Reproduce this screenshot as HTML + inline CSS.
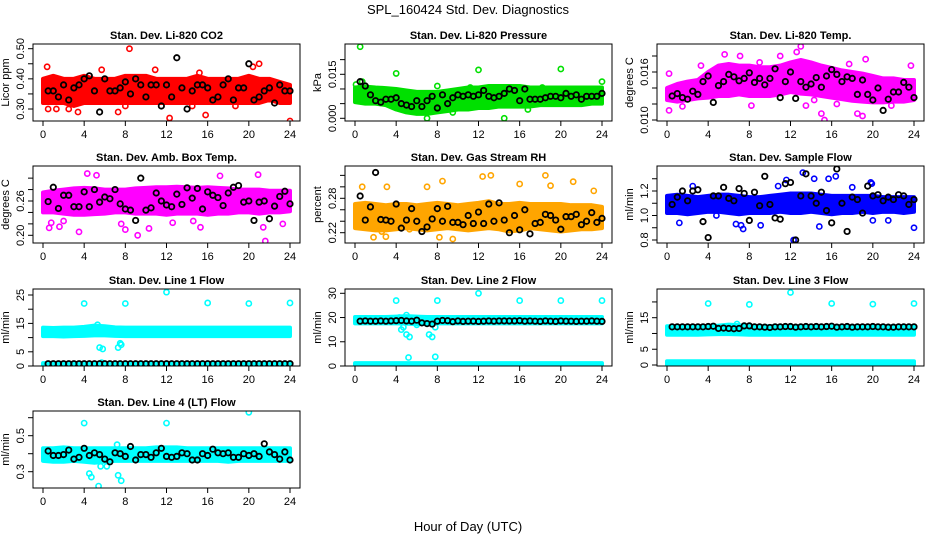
<!DOCTYPE html>
<html><head><meta charset="utf-8">
<style>
body{margin:0;background:#fff;}
svg{display:block;font-family:"Liberation Sans",sans-serif;}
</style></head>
<body>
<svg id="c" width="936" height="540" viewBox="0 0 936 540">
<text x="468" y="14" text-anchor="middle" font-size="13">SPL_160424  Std. Dev. Diagnostics</text>
<text x="468" y="531" text-anchor="middle" font-size="13">Hour of Day (UTC)</text>
</svg>
<script>
const hours = [0,1,2,3,4,5,6,7,8,9,10,11,12,13,14,15,16,17,18,19,20,21,22,23,24];
const xTicks = [0,4,8,12,16,20,24];

const co2BandLo = [0.32,0.32,0.32,0.31,0.32,0.32,0.32,0.32,0.32,0.32,0.32,0.32,0.32,0.32,0.32,0.32,0.32,0.32,0.32,0.32,0.32,0.32,0.33,0.32,0.32];
const co2BandHi = [0.40,0.41,0.40,0.40,0.41,0.40,0.40,0.40,0.41,0.41,0.41,0.40,0.40,0.40,0.40,0.41,0.40,0.40,0.40,0.40,0.41,0.40,0.40,0.39,0.38];
const co2OutX = [0.4,0.5,1.3,2.5,3.4,8.4,12.3,15.8,24,7.3,5.7,10.9,15.2,20.4,21,8,14.5,18.7];
const co2OutY = [0.44,0.30,0.30,0.30,0.29,0.50,0.27,0.28,0.26,0.29,0.43,0.43,0.42,0.44,0.45,0.31,0.31,0.31];
const co2Black = [0.36,0.36,0.34,0.38,0.33,0.37,0.38,0.40,0.41,0.36,0.29,0.40,0.36,0.36,0.37,0.39,0.35,0.40,0.38,0.34,0.38,0.38,0.31,0.38,0.34,0.47,0.37,0.30,0.36,0.38,0.38,0.37,0.33,0.34,0.38,0.40,0.33,0.37,0.37,0.45,0.33,0.34,0.36,0.37,0.32,0.38,0.36,0.36];

const presBandLo = [0.0055,0.005,0.005,0.0045,0.003,0.002,0.0015,0.0015,0.002,0.0025,0.003,0.003,0.0035,0.0035,0.004,0.004,0.004,0.004,0.0045,0.0045,0.0045,0.0045,0.0045,0.005,0.005];
const presBandHi = [0.0105,0.0108,0.0105,0.0103,0.010,0.0095,0.009,0.009,0.009,0.0095,0.010,0.0105,0.0105,0.011,0.011,0.011,0.011,0.0105,0.0105,0.0105,0.0105,0.0105,0.0105,0.0105,0.0105];
const presOutX = [0.5,0.1,0.7,4,12,20,24,8,7,14.5,11.2,18.2,9.5,16.8];
const presOutY = [0.0244,0.0115,0.0125,0.0153,0.0165,0.0168,0.0125,0.011,0.0,0.0,0.0105,0.0105,0.002,0.003];
const presBlack = [0.0125,0.011,0.008,0.006,0.0055,0.0065,0.0065,0.007,0.005,0.0045,0.004,0.006,0.004,0.006,0.0075,0.0035,0.008,0.005,0.007,0.008,0.0075,0.008,0.0075,0.008,0.0095,0.0075,0.007,0.0075,0.0085,0.010,0.0095,0.006,0.010,0.0065,0.0065,0.0065,0.007,0.0075,0.0075,0.007,0.0085,0.0075,0.008,0.0065,0.0075,0.0075,0.0075,0.0085];

const ltBandLo = [0.0125,0.0123,0.0125,0.0127,0.0128,0.013,0.013,0.0132,0.013,0.013,0.013,0.0132,0.0135,0.0133,0.0132,0.013,0.0128,0.0126,0.0124,0.0123,0.0122,0.0122,0.0123,0.0123,0.0125];
const ltBandHi = [0.014,0.0145,0.0148,0.015,0.016,0.0168,0.017,0.0168,0.0168,0.0166,0.0166,0.0168,0.0172,0.0175,0.0172,0.0168,0.0165,0.0162,0.016,0.0158,0.0155,0.0152,0.0152,0.015,0.015];
const ltOutX = [0.2,0.2,5.6,7.1,9,12.6,13,15.3,15,18.5,19,17.7,19.3,23.7,1.5,8.2,13.5,11,3.3,21.8,16.5,14.3];
const ltOutY = [0.0112,0.0158,0.0182,0.018,0.0172,0.0185,0.0192,0.010,0.0108,0.0108,0.0105,0.017,0.0176,0.0168,0.0117,0.0118,0.0118,0.018,0.0168,0.0118,0.012,0.0125];
const ltBlack = [0.013,0.0133,0.0128,0.0126,0.0136,0.0132,0.0148,0.0155,0.0122,0.0143,0.0148,0.0157,0.0154,0.0149,0.0152,0.0159,0.0147,0.0152,0.0144,0.0152,0.0164,0.0128,0.0148,0.016,0.0127,0.0148,0.0141,0.0145,0.0153,0.0141,0.0155,0.0163,0.0157,0.0148,0.0154,0.0152,0.0132,0.015,0.0132,0.0125,0.014,0.0112,0.0126,0.0135,0.0135,0.0147,0.0141,0.0128];

const boxBandLo = [0.24,0.24,0.238,0.236,0.236,0.237,0.238,0.24,0.24,0.238,0.238,0.238,0.236,0.238,0.238,0.238,0.236,0.238,0.238,0.24,0.24,0.238,0.24,0.24,0.242];
const boxBandHi = [0.275,0.278,0.28,0.282,0.283,0.282,0.28,0.28,0.28,0.282,0.283,0.284,0.284,0.285,0.284,0.283,0.284,0.283,0.282,0.28,0.28,0.28,0.278,0.278,0.278];
const boxOutX = [0.6,0.8,1.6,2,3.5,4.3,5.2,9.2,8,10.3,15.3,17.2,20.9,21.4,21.6,23.3,7.6,12.6,14.6];
const boxOutY = [0.213,0.222,0.215,0.225,0.206,0.308,0.305,0.20,0.21,0.212,0.214,0.304,0.306,0.214,0.19,0.22,0.22,0.222,0.225];
const boxBlack = [0.259,0.284,0.247,0.27,0.27,0.25,0.25,0.276,0.25,0.28,0.258,0.267,0.264,0.28,0.255,0.246,0.244,0.226,0.30,0.244,0.248,0.274,0.26,0.253,0.25,0.272,0.254,0.283,0.265,0.282,0.246,0.276,0.27,0.266,0.252,0.274,0.284,0.287,0.258,0.26,0.226,0.258,0.26,0.229,0.251,0.268,0.277,0.255];

const rhBandLo = [0.228,0.226,0.224,0.224,0.226,0.228,0.226,0.224,0.226,0.228,0.226,0.224,0.226,0.228,0.226,0.222,0.224,0.228,0.226,0.224,0.222,0.224,0.226,0.226,0.228];
const rhBandHi = [0.27,0.272,0.27,0.268,0.27,0.27,0.268,0.27,0.272,0.27,0.268,0.27,0.272,0.275,0.27,0.27,0.272,0.27,0.27,0.27,0.27,0.268,0.268,0.268,0.265];
const rhOutX = [0.7,1.8,3.1,3,7,8.2,8.5,9.5,12.4,13.2,16,18.5,19,21.2,23.2,2.6,5.3];
const rhOutY = [0.30,0.212,0.30,0.213,0.30,0.212,0.31,0.209,0.318,0.32,0.305,0.32,0.302,0.309,0.293,0.222,0.226];
const rhBlack = [0.284,0.242,0.265,0.325,0.243,0.242,0.24,0.27,0.228,0.242,0.262,0.24,0.222,0.23,0.244,0.262,0.24,0.266,0.238,0.238,0.234,0.25,0.236,0.256,0.236,0.27,0.24,0.272,0.242,0.22,0.25,0.225,0.26,0.218,0.236,0.238,0.252,0.25,0.242,0.226,0.248,0.248,0.252,0.234,0.24,0.255,0.238,0.245];

const sfBandLo = [1.02,1.02,1.01,1.02,1.03,1.03,1.02,1.01,1.02,1.02,1.02,1.03,1.02,1.02,1.03,1.02,1.01,1.02,1.02,1.03,1.02,1.03,1.03,1.02,1.03];
const sfBandHi = [1.16,1.17,1.16,1.15,1.16,1.17,1.17,1.16,1.15,1.15,1.16,1.17,1.18,1.18,1.18,1.17,1.16,1.16,1.16,1.16,1.16,1.15,1.15,1.15,1.15];
const sfOutX = [1.2,2.5,6.7,7.4,7.2,9.1,10.8,11.6,12.3,13.2,14.3,14.8,18,19.8,19.9,20,24,15.7,16.4,4.8,21.5];
const sfOutY = [0.94,1.24,0.93,0.89,0.92,0.92,1.24,1.29,0.80,1.35,1.30,0.91,1.23,1.27,1.26,0.96,0.90,1.30,1.32,1.0,0.96];
const sfBlack = [1.09,1.15,1.20,1.12,1.20,1.21,0.95,0.82,1.16,1.16,1.23,1.14,1.12,1.22,1.18,0.96,1.19,1.08,1.32,1.09,0.98,0.97,1.26,1.27,0.80,1.16,1.34,1.16,1.10,1.19,1.04,0.94,1.38,1.10,0.87,1.15,1.13,1.02,1.24,1.16,1.17,1.12,1.15,1.13,1.17,1.16,1.09,1.13];

const l1BandLo = [10.5,10.5,10.4,10.5,10.6,10.8,10.8,10.6,10.5,10.5,10.5,10.5,10.5,10.5,10.5,10.5,10.5,10.5,10.5,10.5,10.5,10.5,10.5,10.5,10.5];
const l1BandHi = [13.5,13.4,13.5,13.5,13.8,14.2,14.0,13.6,13.5,13.5,13.5,13.5,13.5,13.5,13.5,13.5,13.5,13.5,13.5,13.5,13.5,13.5,13.5,13.5,13.5];
const l1ZeroHi = [1,1,1,1,1,1,1,1,1,1,1,1,1,1,1,1,1,1,1,1,1,1,1,1,1];
const l1OutX = [4,8,12,16,20,24,5.5,5.8,7.3,7.5,7.6,5.7,5.3];
const l1OutY = [22,22,26,22.2,22,22.2,6.5,6,6.5,8,7.5,1.2,14.5];
const l1Black = [0.8,0.8,0.8,0.8,0.8,0.8,0.8,0.8,0.8,0.8,0.8,0.8,0.8,0.8,0.8,0.8,0.8,0.8,0.8,0.8,0.8,0.8,0.8,0.8,0.8,0.8,0.8,0.8,0.8,0.8,0.8,0.8,0.8,0.8,0.8,0.8,0.8,0.8,0.8,0.8,0.8,0.8,0.8,0.8,0.8,0.8,0.8,0.8];

const l2BandLo = [17.6,17.6,17.6,17.6,17.6,17.5,17.3,17.4,17.6,17.6,17.6,17.6,17.6,17.6,17.6,17.6,17.6,17.6,17.6,17.6,17.6,17.6,17.6,17.6,17.6];
const l2BandHi = [20.2,20.2,20.2,20.2,20.4,20.6,20.4,20.2,20.2,20.2,20.2,20.2,20.2,20.2,20.2,20.2,20.2,20.2,20.2,20.2,20.2,20.2,20.2,20.2,20.2];
const l2ZeroHi = [1.2,1.2,1.2,1.2,1.2,1.2,1.2,1.2,1.2,1.2,1.2,1.2,1.2,1.2,1.2,1.2,1.2,1.2,1.2,1.2,1.2,1.2,1.2,1.2,1.2];
const l2OutX = [4,8,12,16,20,24,4.5,4.7,5,5.3,5.2,7.2,7.5,7.8,5,4.3,7.8,6];
const l2OutY = [27,27,30,27,27,27,15,16,13,12,3.5,13,12,3.8,21,20,16,17];
const l2Black = [18.5,18.6,18.5,18.5,18.6,18.5,18.6,18.7,18.8,18.6,18.5,18.9,17.8,17.5,17.3,18.5,18.8,18.7,18.3,18.6,18.4,18.5,18.5,18.4,18.5,18.6,18.5,18.6,18.6,18.6,18.6,18.7,18.5,18.6,18.5,18.4,18.6,18.5,18.4,18.6,18.5,18.5,18.4,18.5,18.5,18.6,18.5,18.4];

const l3BandLo = [9.6,9.6,9.6,9.6,9.7,9.8,9.8,9.7,9.6,9.6,9.6,9.6,9.6,9.6,9.6,9.6,9.6,9.6,9.6,9.6,9.6,9.6,9.6,9.6,9.6];
const l3BandHi = [12.3,12.3,12.3,12.3,12.3,12.5,12.8,12.6,12.3,12.3,12.3,12.3,12.3,12.3,12.3,12.3,12.3,12.3,12.3,12.3,12.3,12.3,12.3,12.3,12.3];
const l3ZeroHi = [1.2,1.2,1.2,1.2,1.2,1.2,1.2,1.2,1.2,1.2,1.2,1.2,1.2,1.2,1.2,1.2,1.2,1.2,1.2,1.2,1.2,1.2,1.2,1.2,1.2];
const l3OutX = [4,8,12,16,20,24,6.8];
const l3OutY = [19.5,19.2,23,19.5,19.3,19.5,13];
const l3Black = [12.1,12.1,12.1,12.1,12.1,12.1,12.1,12.2,12.3,11.6,11.7,11.6,11.5,11.6,12.4,12.4,12.1,12.1,12.0,11.9,12.1,12.1,12.2,12.2,12.0,12.1,12.2,12.1,12.2,12.1,12.2,12.3,12.0,12.1,12.2,12.0,12.1,12.1,12.1,12.2,12.1,12.1,12.0,12.0,12.1,12.1,12.1,12.1];

const l4BandLo = [0.36,0.355,0.355,0.36,0.355,0.35,0.355,0.36,0.36,0.36,0.36,0.36,0.36,0.36,0.36,0.36,0.36,0.36,0.355,0.36,0.36,0.36,0.36,0.36,0.36];
const l4BandHi = [0.43,0.43,0.435,0.43,0.43,0.43,0.43,0.43,0.43,0.43,0.43,0.435,0.435,0.435,0.43,0.43,0.43,0.43,0.43,0.43,0.43,0.43,0.43,0.43,0.43];
const l4OutX = [4,12,20,4.5,4.7,5.4,7.6,7.3,7.2,6.2,5.6];
const l4OutY = [0.57,0.57,0.63,0.29,0.27,0.22,0.25,0.28,0.45,0.33,0.33];
const l4Black = [0.415,0.39,0.39,0.395,0.42,0.37,0.38,0.43,0.39,0.405,0.395,0.37,0.355,0.405,0.40,0.385,0.44,0.365,0.395,0.395,0.38,0.405,0.43,0.385,0.38,0.385,0.405,0.40,0.365,0.365,0.40,0.39,0.425,0.405,0.40,0.405,0.38,0.38,0.40,0.39,0.40,0.385,0.455,0.41,0.395,0.37,0.41,0.365];

const blackHours = [];
for (let i = 1; i <= 48; i++) blackHours.push(i * 0.5);

const svg = document.getElementById('c');
const NS = 'http://www.w3.org/2000/svg';
function mk(tag, attrs, parent) {
  const e = document.createElementNS(NS, tag);
  for (const k in attrs) e.setAttribute(k, attrs[k]);
  (parent || svg).appendChild(e);
  return e;
}

const colX = [43, 355, 667];
const rowTop = [44, 166, 289, 411];
const PH = 77, PW24 = 247;

const panels = [
  {id:'co2', title:'Stan. Dev. Li-820 CO2', ylab:'Licor ppm', col:0,row:0, v0:0.30,y0:109,v1:0.50,y1:48.7, ticks:[0.30,0.35,0.40,0.45,0.50], labels:['0.30','','0.40','','0.50'], color:'#ff0000', bands:[[co2BandLo,co2BandHi]], ox:co2OutX, oy:co2OutY, bk:co2Black},
  {id:'pressure', title:'Stan. Dev. Li-820 Pressure', ylab:'kPa', col:1,row:0, v0:0,y0:118.3,v1:0.015,y1:74.3, ticks:[0,0.005,0.010,0.015,0.020], labels:['0.000','','','0.015',''], color:'#00e000', bands:[[presBandLo,presBandHi]], ox:presOutX, oy:presOutY, bk:presBlack},
  {id:'li820-temp', title:'Stan. Dev. Li-820 Temp.', ylab:'degrees C', col:2,row:0, v0:0.010,y0:120,v1:0.016,y1:72, ticks:[0.010,0.012,0.014,0.016,0.018], labels:['0.010','','','0.016',''], color:'#ff00ff', bands:[[ltBandLo,ltBandHi]], ox:ltOutX, oy:ltOutY, bk:ltBlack},
  {id:'box-temp', title:'Stan. Dev. Amb. Box Temp.', ylab:'degrees C', col:0,row:1, v0:0.20,y0:235.3,v1:0.26,y1:201, ticks:[0.20,0.22,0.24,0.26,0.28,0.30], labels:['0.20','','','0.26','',''], color:'#ff00ff', bands:[[boxBandLo,boxBandHi]], ox:boxOutX, oy:boxOutY, bk:boxBlack},
  {id:'gas-rh', title:'Stan. Dev. Gas Stream RH', ylab:'percent', col:1,row:1, v0:0.22,y0:232.7,v1:0.28,y1:198.3, ticks:[0.22,0.24,0.26,0.28,0.30,0.32], labels:['0.22','','','0.28','',''], color:'#ffa500', bands:[[rhBandLo,rhBandHi]], ox:rhOutX, oy:rhOutY, bk:rhBlack},
  {id:'sample-flow', title:'Stan. Dev. Sample Flow', ylab:'ml/min', col:2,row:1, v0:0.8,y0:240,v1:1.2,y1:191, ticks:[0.8,0.9,1.0,1.1,1.2,1.3], labels:['0.8','','1.0','','1.2',''], color:'#0000ff', bands:[[sfBandLo,sfBandHi]], ox:sfOutX, oy:sfOutY, bk:sfBlack},
  {id:'line1-flow', title:'Stan. Dev. Line 1 Flow', ylab:'ml/min', col:0,row:2, v0:0,y0:366,v1:25,y1:295, ticks:[0,5,10,15,20,25], labels:['0','5','','15','','25'], color:'#00ffff', bands:[[l1BandLo,l1BandHi],[null,l1ZeroHi]], ox:l1OutX, oy:l1OutY, bk:l1Black},
  {id:'line2-flow', title:'Stan. Dev. Line 2 Flow', ylab:'ml/min', col:1,row:2, v0:0,y0:366,v1:30,y1:293.3, ticks:[0,10,20,30], labels:['0','10','20','30'], color:'#00ffff', bands:[[l2BandLo,l2BandHi],[null,l2ZeroHi]], ox:l2OutX, oy:l2OutY, bk:l2Black},
  {id:'line3-flow', title:'Stan. Dev. Line 3 Flow', ylab:'ml/min', col:2,row:2, v0:0,y0:365,v1:15,y1:317.7, ticks:[0,5,10,15,20], labels:['0','5','','15',''], color:'#00ffff', bands:[[l3BandLo,l3BandHi],[null,l3ZeroHi]], ox:l3OutX, oy:l3OutY, bk:l3Black},
  {id:'line4-flow', title:'Stan. Dev. Line 4 (LT) Flow', ylab:'ml/min', col:0,row:3, v0:0.3,y0:471.7,v1:0.5,y1:435.7, ticks:[0.2,0.3,0.4,0.5,0.6], labels:['','0.3','','0.5',''], color:'#00ffff', bands:[[l4BandLo,l4BandHi]], ox:l4OutX, oy:l4OutY, bk:l4Black}
];

panels.forEach(p => {
  const x0 = colX[p.col], top = rowTop[p.row], bot = top + PH;
  const left = x0 - 10, right = x0 + PW24 + 10;
  const xs = h => x0 + h * PW24 / 24;
  const ys = v => p.y0 + (v - p.v0) * (p.y1 - p.y0) / (p.v1 - p.v0);
  const g = mk('g', {});
  
  
  const clip = mk('clipPath', {id:'clip-' + p.id}, g);
  mk('rect', {x:left, y:top, width:right-left, height:PH}, clip);
  const plot = mk('g', {'clip-path':'url(#clip-' + p.id + ')'}, g);
  
  
  // bands
  p.bands.forEach(b => {
    const lo = b[0], hi = b[1];
    let pts = [];
    hours.forEach((h, i) => pts.push(xs(h) + ',' + ys(hi[i])));
    for (let i = hours.length - 1; i >= 0; i--) pts.push(xs(hours[i]) + ',' + ys(lo ? lo[i] : p.v0));
    const poly = mk('polygon', {points: pts.join(' '), fill: p.color, stroke: p.color, 'stroke-width': 4, 'stroke-linejoin':'round'}, plot);
    
    
  });
  p.ox.forEach((h, i) => {
    const c = mk('circle', {cx: xs(h), cy: ys(p.oy[i]), r: 2.6, fill: 'none', stroke: p.color, 'stroke-width': 1.6}, plot);
    
    
  });
  p.bk.forEach((v, i) => {
    const c = mk('circle', {cx: xs(blackHours[i]), cy: ys(v), r: 2.7, fill: 'none', stroke: '#000', 'stroke-width': 1.8}, plot);
    
    
  });
  const box = mk('rect', {x:left, y:top, width:right-left, height:PH, fill:'none', stroke:'#000', 'stroke-width':1}, g);
  
  
  const t = mk('text', {x:(left+right)/2, y:top-5, 'text-anchor':'middle', 'font-size':11, 'font-weight':'bold'}, g);
  t.textContent = p.title;
  
  
  xTicks.forEach(h => {
    mk('line', {x1:xs(h), x2:xs(h), y1:bot, y2:bot+5, stroke:'#000'}, g);
    const tl = mk('text', {x:xs(h), y:bot+17, 'text-anchor':'middle', 'font-size':11}, g);
    tl.textContent = h;
    
    
  });
  p.ticks.forEach((v, i) => {
    const y = ys(v);
    if (y < top - 1 || y > bot + 1) return;
    mk('line', {x1:left-5, x2:left, y1:y, y2:y, stroke:'#000'}, g);
    if (p.labels[i]) {
      const tl = mk('text', {x:0, y:0, transform:'translate(' + (left-9) + ',' + y + ') rotate(-90)', 'text-anchor':'middle', 'font-size':11}, g);
      tl.textContent = p.labels[i];
      
      
    }
  });
  const yl = mk('text', {x:0, y:0, transform:'translate(' + (left-24) + ',' + (top+PH/2) + ') rotate(-90)', 'text-anchor':'middle', 'font-size':11}, g);
  yl.textContent = p.ylab;
  
  
});
</script>
</body></html>
